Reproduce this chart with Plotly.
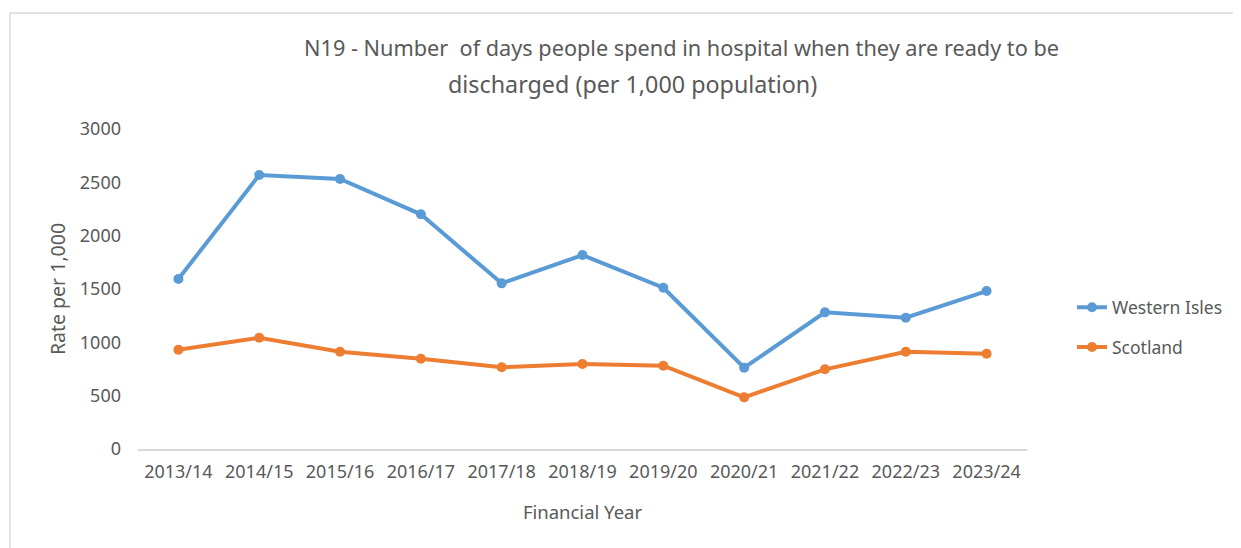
import plotly.graph_objects as go

years = ["2013/14", "2014/15", "2015/16", "2016/17", "2017/18", "2018/19",
         "2019/20", "2020/21", "2021/22", "2022/23", "2023/24"]
western_isles = [1594, 2568, 2531, 2200, 1553, 1818, 1512, 762, 1281, 1231, 1481]
scotland = [931, 1043, 912, 846, 766, 797, 781, 484, 747, 912, 893]
title_line1 = "N19 - Number  of days people spend in hospital when they are ready to be"
title_line2 = "discharged (per 1,000 population)"

FONT = "Noto Sans, sans-serif"
GREY = "#595959"

# figure is placed 8px in from the page edge, so size/margins account for that
W, H = 1233, 540
L, R, T, B = 130, 214, 121, 99
PW, PH = W - L - R, H - T - B

fig = go.Figure()
fig.add_trace(go.Scatter(x=years, y=western_isles, name="Western Isles", mode="lines+markers",
                         line=dict(color="#5B9BD5", width=4), marker=dict(size=10, color="#5B9BD5"),
                         legendgroup="a"))
fig.add_trace(go.Scatter(x=years, y=scotland, name="Scotland", mode="lines+markers",
                         line=dict(color="#ED7D31", width=4), marker=dict(size=10, color="#ED7D31"),
                         legendgroup="b"))

fig.update_layout(
    width=W, height=H,
    margin=dict(l=L, r=R, t=T, b=B),
    paper_bgcolor="white", plot_bgcolor="white",
    font=dict(family=FONT, color=GREY, size=18),
    xaxis=dict(range=[-0.5, len(years) - 0.5], showgrid=False, showline=True,
               linecolor="#D9D9D9", linewidth=1.5, ticks="", ticklabelstandoff=6,
               tickfont=dict(size=18),
               title=dict(text="Financial Year", font=dict(size=18.5), standoff=24)),
    yaxis=dict(range=[0, 3000], tickvals=[0, 500, 1000, 1500, 2000, 2500, 3000],
               showgrid=False, zeroline=False, ticks="", tickfont=dict(size=18),
               ticklabelstandoff=16,
               title=dict(text="Rate per 1,000", font=dict(size=19.5), standoff=8)),
    legend=dict(x=(1064 - L) / PW, y=0.38, xanchor="left", yanchor="middle", tracegroupgap=14,
                itemwidth=30, font=dict(size=17.5), bgcolor="rgba(0,0,0,0)"),
    annotations=[
        dict(text=title_line1, xref="paper", yref="paper", x=(673 - L) / PW, y=1 + (T - 40) / PH,
             xanchor="center", yanchor="middle", showarrow=False, font=dict(size=21.7, color=GREY)),
        dict(text=title_line2, xref="paper", yref="paper", x=(624 - L) / PW, y=1 + (T - 76) / PH,
             xanchor="center", yanchor="middle", showarrow=False, font=dict(size=23.3, color=GREY)),
    ],
    shapes=[dict(type="rect", xref="paper", yref="paper",
                 x0=(2 - L) / PW, x1=(W + 40 - L) / PW, y0=-(B + 40) / PH, y1=1 + (T - 5) / PH,
                 line=dict(color="#D9D9D9", width=1.5), fillcolor="rgba(0,0,0,0)", layer="below")],
)

fig.write_html("out.html")
